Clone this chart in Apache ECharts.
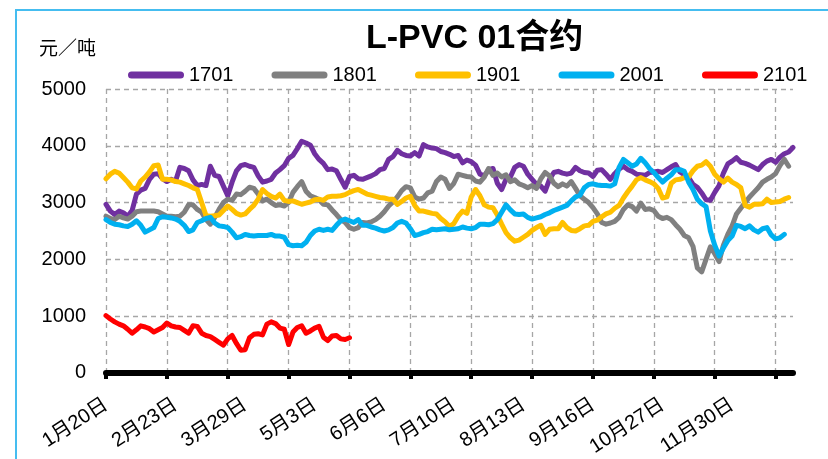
<!DOCTYPE html>
<html>
<head>
<meta charset="utf-8">
<script src="https://cdn.jsdelivr.net/npm/echarts@6/dist/echarts.min.js"></script>
<style>
  html, body { margin: 0; padding: 0; background: #fff; }
  #chart { width: 828px; height: 459px; }
</style>
</head>
<body>
<div id="chart"></div>
<script>
// Trading-day axis: one slot per day, a date label every LABEL_STEP days,
// a tick / vertical grid line every TICK_STEP days.
const dateLabels = ['1月20日', '2月23日', '3月29日', '5月3日', '6月6日',
                    '7月10日', '8月13日', '9月16日', '10月27日', '11月30日'];
const LABEL_STEP = 16;
const TICK_STEP = 14;
const DAY_COUNT = 159;
const tradingDays = Array.from({ length: DAY_COUNT }, (_, i) => String(i));

const yTicks = [0, 1000, 2000, 3000, 4000, 5000];

// Closing prices (元/吨) of each January contract, by trading day
const c1701 = [
  2970, 2850, 2790, 2850, 2820, 2760, 2860, 3150, 3220, 3250,
  3410, 3500, 3510, 3420, 3370, 3410, 3380, 3620, 3600, 3560,
  3400, 3300, 3320, 3300, 3640, 3480, 3460, 3290, 3120, 3360,
  3560, 3650, 3670, 3640, 3620, 3470, 3360, 3380, 3410, 3520,
  3580, 3650, 3780, 3830, 3950, 4080, 4050, 4010, 3860, 3760,
  3690, 3580, 3590, 3560, 3410, 3270, 3460, 3480, 3420, 3410,
  3440, 3470, 3510, 3580, 3600, 3760, 3810, 3920, 3860, 3830,
  3820, 3880, 3820, 4020, 3980, 3960, 3950, 3900, 3880, 3850,
  3810, 3830, 3700, 3750, 3720, 3660, 3500, 3470, 3580, 3600,
  3340, 3230, 3410, 3450, 3620, 3670, 3640, 3500, 3410, 3320,
  3290, 3200, 3410, 3530, 3550, 3520, 3500, 3520, 3620, 3560,
  3530, 3520, 3460, 3570, 3580, 3500, 3410, 3510, 3590, 3640,
  3580, 3550, 3500, 3490, 3480, 3530, 3540, 3550, 3530, 3580,
  3630, 3670, 3540, 3490, 3440, 3320, 3270, 3170, 3050, 3040,
  3180, 3300, 3520, 3680, 3730, 3790, 3710, 3690, 3660, 3620,
  3580, 3670, 3730, 3760, 3710, 3800, 3860, 3890, 3970
];

const c1801 = [
  2760, 2720, 2700, 2760, 2730, 2710, 2760, 2840, 2850, 2850,
  2850, 2850, 2840, 2800, 2760, 2760, 2750, 2760, 2830, 2960,
  2960, 2880, 2830, 2700, 2620, 2740, 2880, 3000, 3060, 3040,
  3150, 3140, 3200, 3270, 3250, 3150, 3030, 3060, 3000, 2950,
  2960, 2940, 3000, 3180, 3280, 3370, 3200, 3120, 3090, 3050,
  2970, 2960, 2870, 2790, 2700, 2650, 2560, 2530, 2560, 2650,
  2640, 2660, 2700, 2760, 2840, 2940, 3010, 3100, 3210, 3280,
  3260, 3100, 3060, 3080, 3170, 3200, 3370, 3450, 3410, 3250,
  3340, 3500, 3480, 3460, 3450, 3380, 3360, 3450, 3600, 3480,
  3520, 3450, 3490, 3370, 3400, 3330, 3300, 3260, 3300, 3250,
  3420, 3530, 3470, 3340, 3280, 3330, 3290, 3370, 3250, 3120,
  3060, 3000, 2910, 2800, 2650, 2620, 2640, 2670, 2740, 2880,
  2960, 2930, 2850, 2990, 2880, 2890, 2860, 2760, 2720, 2740,
  2700, 2610, 2530, 2420, 2380, 2230, 1850, 1780, 2000, 2220,
  2100, 1960, 2250, 2440, 2590, 2800, 2900, 3000, 3100, 3180,
  3260, 3360, 3410, 3450, 3510, 3650, 3760, 3640
];

const c1901 = [
  3420, 3500, 3550, 3520, 3440, 3360, 3260, 3240, 3380, 3450,
  3540, 3650, 3660, 3410, 3410, 3400, 3370, 3360, 3330, 3300,
  3260, 3230, 3000, 2770, 2760, 2770, 2780, 2860, 2940, 2880,
  2810, 2780, 2800, 2880, 2950, 3060, 3230, 3160, 3110, 3080,
  3150, 3040, 3020, 3030, 3000, 2970, 2990, 3010, 3050, 3060,
  3040, 3100, 3110, 3110, 3120, 3140, 3180, 3210, 3230, 3190,
  3150, 3130, 3110, 3090, 3080, 3060, 3060, 2970, 3020, 3080,
  3110, 2950, 2850, 2850, 2830, 2810, 2800, 2720, 2660, 2580,
  2630, 2760, 2850, 2810, 3100, 3230, 3120, 2960, 2920, 2910,
  2780, 2620, 2470, 2380, 2320, 2340, 2390, 2440, 2510, 2560,
  2600, 2440, 2530, 2540, 2540, 2650, 2560, 2510, 2500, 2540,
  2590, 2600, 2670, 2690, 2750, 2800, 2830, 2900, 2950, 3080,
  3190, 3290, 3400, 3440, 3400, 3370, 3330, 3250, 3080, 3100,
  3340, 3400, 3410, 3440, 3450, 3560, 3640, 3660, 3720, 3640,
  3500, 3420, 3360, 3430, 3360, 3320, 3260, 2950, 2920, 2970,
  2970, 2980, 3060, 3000, 3010, 3020, 3060, 3090
];

const c2001 = [
  2700, 2650, 2620, 2610, 2590, 2580, 2620, 2680, 2600, 2480,
  2520, 2560, 2720, 2750, 2740, 2730, 2710, 2670, 2600, 2490,
  2520, 2650, 2680, 2720, 2740, 2640, 2590, 2580, 2560, 2480,
  2380, 2400, 2440, 2420, 2410, 2420, 2420, 2420, 2440, 2410,
  2410, 2390, 2260, 2240, 2250, 2240, 2300, 2420, 2500, 2530,
  2510, 2530, 2510, 2600, 2680, 2710, 2680, 2650, 2700, 2600,
  2600, 2570, 2550, 2520, 2500, 2520, 2560, 2640, 2670, 2640,
  2540, 2420, 2440, 2470, 2490, 2530, 2520, 2530, 2540, 2520,
  2530, 2540, 2570, 2550, 2540, 2560, 2620, 2620, 2610, 2630,
  2700, 2830, 2960, 2870, 2800, 2790, 2800, 2740, 2710, 2730,
  2750, 2790, 2820, 2860, 2890, 2920, 2950, 3030, 3100, 3130,
  3260, 3320, 3330, 3310, 3300, 3300, 3290, 3330, 3620, 3760,
  3700, 3640, 3680, 3780, 3700, 3600, 3530, 3440, 3360, 3430,
  3490, 3580, 3580, 3550, 3360, 3230, 3060, 2980, 2930, 2500,
  2250, 2060, 2200, 2330, 2410, 2600, 2580, 2540, 2590, 2520,
  2480, 2540, 2560, 2430, 2360, 2380, 2440
];

const c2101 = [
  1010, 950, 900, 860, 830, 770, 700, 760, 830, 810,
  780, 720, 760, 800, 880, 830, 810, 800, 750, 700,
  830, 820, 700, 660, 640, 590, 540, 490, 600, 660,
  520, 400, 410, 620, 680, 690, 670, 860, 900, 870,
  790, 770, 500, 720, 800, 830, 700, 740, 790, 820,
  630, 570, 650, 660, 600, 590, 620
];

const contracts = [
  { name: '1701', data: c1701, color: '#7030A0' },
  { name: '1801', data: c1801, color: '#808080' },
  { name: '1901', data: c1901, color: '#FFC000' },
  { name: '2001', data: c2001, color: '#00B0F0' },
  { name: '2101', data: c2101, color: '#FF0000' }
];

const LATIN = "'Liberation Sans', 'Noto Sans CJK SC', sans-serif";
const gridDash = { color: '#a6a6a6', width: 1.3, type: [5, 4] };

const chart = echarts.init(document.getElementById('chart'), null, { renderer: 'canvas' });

chart.setOption({
  animation: false,
  backgroundColor: '#ffffff',
  title: {
    text: 'L-PVC 01合约',
    left: 366,
    top: 22,
    padding: 0,
    textStyle: { fontSize: 34, fontWeight: 'bold', color: '#000', fontFamily: LATIN }
  },
  graphic: [
    {
      type: 'rect',
      silent: true,
      z: -10,
      shape: { x: 16, y: 10, width: 900, height: 600 },
      style: { fill: 'none', stroke: '#45bdf0', lineWidth: 2 }
    },
    {
      type: 'text',
      silent: true,
      x: 39,
      y: 48,
      style: {
        text: '元／吨',
        fontSize: 19,
        fontFamily: "'Noto Sans CJK SC', sans-serif",
        fill: '#000',
        verticalAlign: 'middle'
      }
    }
  ],
  legend: {
    left: 128,
    top: 65,
    padding: 0,
    itemWidth: 56,
    itemHeight: 7,
    itemGap: 38,
    icon: 'path://M3.5,0H52.5A3.5,3.5,0,0,1,52.5,7H3.5A3.5,3.5,0,0,1,3.5,0Z',
    textStyle: { fontSize: 20, color: '#000', fontFamily: LATIN },
    data: contracts.map(c => c.name)
  },
  grid: { left: 106, top: 89, width: 687, height: 285, containLabel: false },
  xAxis: {
    type: 'category',
    data: tradingDays,
    boundaryGap: false,
    axisLine: { show: true, lineStyle: { color: '#000', width: 6 } },
    axisTick: {
      show: true,
      interval: (i) => i % TICK_STEP === 0,
      length: 6,
      lineStyle: { color: '#000', width: 4 }
    },
    axisLabel: {
      interval: (i) => i % LABEL_STEP === 0,
      formatter: (v, i) => dateLabels[i / LABEL_STEP] || '',
      rotate: 33,
      margin: 30,
      fontSize: 20,
      color: '#000',
      fontFamily: LATIN
    },
    splitLine: {
      show: true,
      interval: (i) => i % TICK_STEP === 0,
      lineStyle: gridDash
    }
  },
  yAxis: {
    type: 'value',
    min: yTicks[0],
    max: yTicks[yTicks.length - 1],
    interval: yTicks[1] - yTicks[0],
    axisLine: { show: false },
    axisTick: { show: false },
    axisLabel: {
      fontSize: 20,
      color: '#000',
      margin: 20,
      fontFamily: LATIN,
      formatter: (v) => String(v)
    },
    splitLine: { show: true, lineStyle: gridDash }
  },
  series: contracts.map(c => ({
    name: c.name,
    type: 'line',
    data: c.data,
    showSymbol: false,
    symbol: 'none',
    smooth: false,
    color: c.color,
    lineStyle: { color: c.color, width: 5, cap: 'round', join: 'round' },
    emphasis: { disabled: true }
  }))
});
</script>
</body>
</html>
